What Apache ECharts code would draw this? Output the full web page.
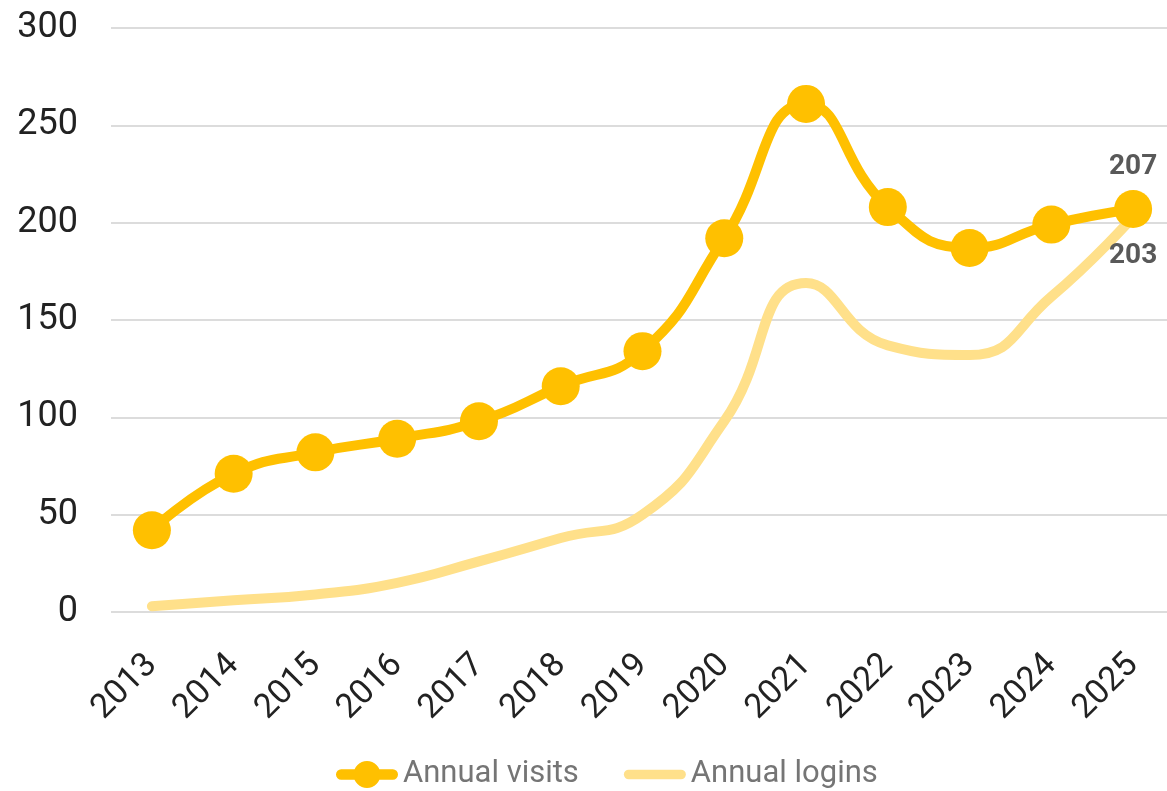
<!DOCTYPE html>
<html lang="en">
<head>
    <meta charset="UTF-8">
    <title>Annual visits</title>
    <script src="https://cdn.jsdelivr.net/npm/echarts@6/dist/echarts.min.js"></script>
    <style>
        html, body { margin: 0; padding: 0; background: #fff; }
    </style>
</head>
<body>
<div id="main" style="width: 1167px;height:791px;"></div>
<script type="text/javascript">
    var years = ['2013','2014','2015','2016','2017','2018','2019','2020','2021','2022','2023','2024','2025'];
    var visits = [42, 71, 82, 89, 98, 116, 134, 192, 261, 208, 187, 199, 207];
    var logins = [3, 6, 9, 15, 26, 38, 50, 98, 169, 137, 132, 162, 203];
    var yTicks = [0, 50, 100, 150, 200, 250, 300];

    var myChart = echarts.init(document.getElementById('main'));
    var last = years.length - 1;

    // legend icons: thick round-capped line, with a dot for the visits series
    var iconVisits = 'path://M5,9 L55,9 A5,5 0 0 1 55,19 L5,19 A5,5 0 0 1 5,9 Z M30,1 A13,13 0 1 1 29.99,1 Z';
    var iconLogins = 'path://M5,9 L59,9 A5,5 0 0 1 59,19 L5,19 A5,5 0 0 1 5,9 Z';

    var option = {
        animation: false,
        textStyle: { fontFamily: 'Roboto' },
        grid: { left: 111, width: 1063, top: 28, height: 584, outerBoundsMode: 'none' },
        legend: {
            bottom: -4,
            left: 331,
            itemWidth: 62,
            itemHeight: 28,
            itemGap: 45,
            textStyle: { fontSize: 31, color: '#757575' },
            itemStyle: { borderWidth: 0 },
            data: [
                { name: 'Annual visits', icon: iconVisits },
                { name: 'Annual logins', icon: iconLogins }
            ]
        },
        xAxis: {
            type: 'category',
            data: years,
            axisLine: { show: false },
            axisTick: { show: false },
            axisLabel: { rotate: 45, fontSize: 34, color: '#222', margin: 48 }
        },
        yAxis: {
            type: 'value',
            min: yTicks[0],
            max: yTicks[yTicks.length - 1],
            interval: 50,
            axisLine: { show: false },
            axisTick: { show: false },
            axisLabel: { fontSize: 36, color: '#222', margin: 33 },
            splitLine: { lineStyle: { color: '#dcdcdc', width: 2 } }
        },
        series: [
            {
                name: 'Annual logins',
                type: 'line',
                smooth: 0.5,
                symbol: 'circle',
                symbolSize: 0,
                lineStyle: { width: 10, color: '#FFE08A', cap: 'round' },
                itemStyle: { color: '#FFE08A' },
                data: logins.map(function (v, i) {
                    return i === last ? {
                        value: v,
                        label: { show: true, position: 'bottom', distance: 25, fontSize: 28, fontWeight: 'bold', color: '#595959' }
                    } : v;
                })
            },
            {
                name: 'Annual visits',
                type: 'line',
                smooth: 0.5,
                symbol: 'circle',
                symbolSize: 38,
                lineStyle: { width: 10, color: '#FFC000', cap: 'round' },
                itemStyle: { color: '#FFC000' },
                data: visits.map(function (v, i) {
                    return i === last ? {
                        value: v,
                        label: { show: true, position: 'top', distance: 9, fontSize: 28, fontWeight: 'bold', color: '#595959' }
                    } : v;
                })
            }
        ]
    };
    myChart.setOption(option);
</script>
</body>
</html>
